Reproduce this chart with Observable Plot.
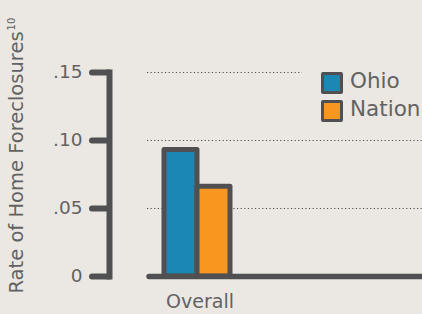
<!DOCTYPE html>
<html>
<head>
<meta charset="utf-8">
<script src="https://cdn.jsdelivr.net/npm/d3@7"></script>
<script src="https://cdn.jsdelivr.net/npm/@observablehq/plot@0.6"></script>
<style>
  html, body { margin: 0; padding: 0; background: #ebe8e4; overflow: hidden; }
  #wrap { position: relative; width: 422px; height: 314px; font-family: "DejaVu Sans", sans-serif; }
  #legend { position: absolute; left: 302px; top: 64px; width: 120px; height: 64px; background: #ebe8e4; overflow: hidden; }
  .item { position: absolute; left: 19px; height: 22px; white-space: nowrap; }
  .sw { position: absolute; left: 0; top: 0; width: 16px; height: 16px; border: 3px solid #505052; border-radius: 2px; }
  .lab { position: absolute; left: 29px; top: -5px; font-size: 21.5px; line-height: 28px; color: #626262; }
</style>
</head>
<body>
<div id="wrap"></div>
<script>
const categories = ["Overall"];
const series = ["Ohio", "Nation"];
const values = [0.093, 0.066];
const colors = ["#1a88b2", "#f7971f"];
const yTicks = [0, 0.05, 0.10, 0.15];
const yTickLabels = ["0", ".05", ".10", ".15"];
const yTitle = "Rate of Home Foreclosures";
const yTitleNote = "10";

const data = series.map((s, i) => ({category: categories[0], series: s, value: values[i]}));
const dark = "#505052";
const textColor = "#626262";

const chart = Plot.plot({
  width: 422,
  height: 314,
  marginLeft: 147,
  marginRight: 0,
  marginTop: 72,
  marginBottom: 38,
  style: {background: "transparent", fontFamily: "DejaVu Sans, sans-serif", overflow: "visible"},
  x: {domain: series, range: [164, 230], padding: 0, axis: null},
  y: {domain: [0, 0.15], axis: null},
  color: {domain: series, range: colors},
  marks: [
    Plot.ruleY(yTicks.filter(d => d > 0), {stroke: dark, strokeWidth: 1.2, strokeDasharray: "1.2,2.4"}),
    Plot.barY(data, {x: "series", y: "value", fill: "series", stroke: dark, strokeWidth: 5, strokeLinejoin: "round"}),
    Plot.ruleY([0], {stroke: dark, strokeWidth: 5.5, strokeLinecap: "round", insetLeft: 2}),
    Plot.frame({anchor: "left", dx: -38, stroke: dark, strokeWidth: 6, strokeLinecap: "square"}),
    Plot.axisY({
      ticks: yTicks,
      tickFormat: d => yTickLabels[yTicks.indexOf(d)],
      tickSize: 17,
      tickPadding: 10,
      dx: -38,
      stroke: dark,
      strokeWidth: 6,
      strokeLinecap: "round",
      fill: textColor,
      fontSize: 18.5,
      label: null
    }),
    Plot.text(categories, {
      x: () => series[0],
      y: () => 0,
      dx: 19,
      dy: 18,
      lineAnchor: "top",
      textAnchor: "middle",
      fill: textColor,
      fontSize: 19
    }),
    Plot.text([yTitle], {
      frameAnchor: "bottom-left",
      rotate: -90,
      textAnchor: "start",
      lineAnchor: "middle",
      dx: -131,
      dy: 17,
      fill: textColor,
      fontSize: 19.5
    })
  ]
});

// superscript note on the y title
d3.select(chart).selectAll("text")
  .filter(function() { return this.textContent === yTitle; })
  .append("tspan")
  .attr("font-size", 10)
  .attr("dy", "-0.75em")
  .attr("dx", "1")
  .text(yTitleNote);

const wrap = document.getElementById("wrap");
wrap.appendChild(chart);

const legend = document.createElement("div");
legend.id = "legend";
series.forEach((s, i) => {
  const item = document.createElement("div");
  item.className = "item";
  item.style.top = (8 + i * 28) + "px";
  const sw = document.createElement("div");
  sw.className = "sw";
  sw.style.background = colors[i];
  const lab = document.createElement("div");
  lab.className = "lab";
  lab.textContent = s;
  item.appendChild(sw);
  item.appendChild(lab);
  legend.appendChild(item);
});
wrap.appendChild(legend);
</script>
</body>
</html>
